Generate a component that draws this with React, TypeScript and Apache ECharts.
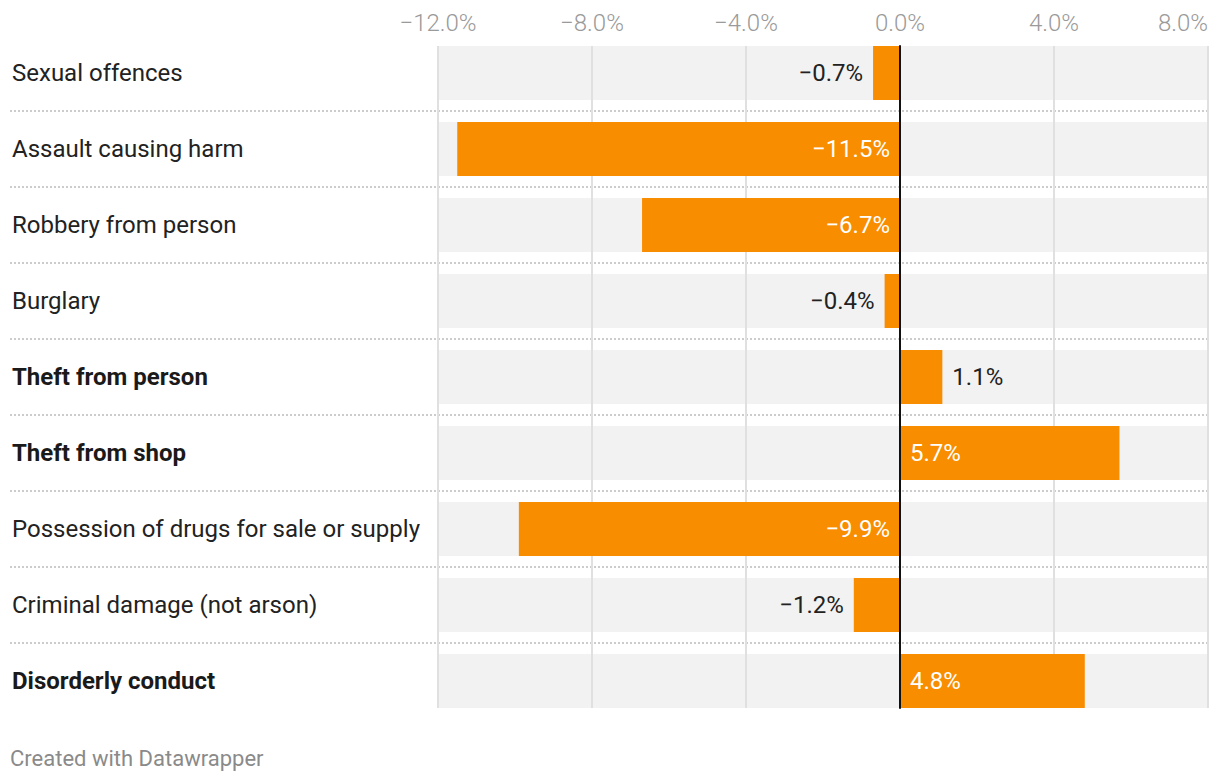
import React, { useEffect, useRef } from "react";
import * as echarts from "echarts";

const categories = [
  "Sexual offences",
  "Assault causing harm",
  "Robbery from person",
  "Burglary",
  "Theft from person",
  "Theft from shop",
  "Possession of drugs for sale or supply",
  "Criminal damage (not arson)",
  "Disorderly conduct",
];
const boldCategories = ["Theft from person", "Theft from shop", "Disorderly conduct"];
const values = [-0.7, -11.5, -6.7, -0.4, 1.1, 5.7, -9.9, -1.2, 4.8];
const axisMin = -12;
const axisMax = 8;
const axisStep = 4;
const footerText = "Created with Datawrapper";

const fmt = (v: number) => (v < 0 ? "\u2212" : "") + Math.abs(v).toFixed(1) + "%";

export default function App() {
  const ref = useRef<HTMLDivElement>(null);
  useEffect(() => {
    document.body.style.margin = "0";
    if (!ref.current) return;
    const chart = echarts.init(ref.current, null, { renderer: "svg" });
    const FONT = "Roboto";
    const gridTop = 35;
    const gridH = 684;
    const left = 438;
    const width = 770;

    const barData = values.map((v) => {
      const big = Math.abs(v) > 3;
      let position: string;
      if (v < 0) position = big ? "insideRight" : "left";
      else position = big ? "insideLeft" : "right";
      return {
        value: v,
        label: {
          show: true,
          position,
          distance: 10,
          color: big ? "#ffffff" : "#222222",
          formatter: () => fmt(v),
        },
      };
    });

    chart.setOption({
      animation: false,
      backgroundColor: "#ffffff",
      textStyle: { fontFamily: FONT },
      grid: [
        { left, width, top: gridTop, height: gridH, containLabel: false },
        { left: 10, right: 12, top: gridTop, height: gridH, containLabel: false },
        { left, width, top: 46, height: 662, containLabel: false },
      ],
      xAxis: [
        {
          gridIndex: 0,
          type: "value",
          position: "top",
          min: axisMin,
          max: axisMax,
          interval: axisStep,
          axisLine: { show: false },
          axisTick: { show: false },
          splitLine: { show: false },
          axisLabel: {
            show: true,
            margin: 0,
            fontSize: 24,
            fontFamily: FONT,
            fontWeight: 300,
            color: "#9a9a9a",
            alignMaxLabel: "right",
            formatter: (v: number) => fmt(v),
          },
        },
        { gridIndex: 1, type: "value", show: false, min: 0, max: 1 },
        {
          gridIndex: 2,
          type: "value",
          min: axisMin,
          max: axisMax,
          interval: axisStep,
          z: 2,
          axisLine: { show: false },
          axisTick: { show: false },
          axisLabel: { show: false },
          splitLine: { show: true, lineStyle: { color: "#e0e0e0", width: 2 } },
        },
      ],
      yAxis: [
        {
          gridIndex: 0,
          type: "category",
          inverse: true,
          data: categories,
          axisLine: { show: false },
          axisTick: { show: false },
          splitLine: { show: false },
          axisLabel: {
            show: true,
            align: "left",
            margin: 426,
            formatter: (c: string) =>
              boldCategories.includes(c) ? `{b|${c}}` : `{n|${c}}`,
            rich: {
              n: { fontSize: 24, fontFamily: FONT, color: "#222222", fontWeight: "normal" },
              b: { fontSize: 24, fontFamily: FONT, color: "#1a1a1a", fontWeight: "bold" },
            },
          },
        },
        {
          gridIndex: 1,
          type: "category",
          inverse: true,
          data: categories,
          axisLine: { show: false },
          axisTick: { show: false },
          axisLabel: { show: false },
          splitLine: {
            show: true,
            showMinLine: false,
            showMaxLine: false,
            lineStyle: { color: "#cccccc", width: 2, type: [2, 2] },
          },
        },
        {
          gridIndex: 2,
          type: "value",
          min: 0,
          max: 1,
          z: 6,
          axisLine: { show: true, onZero: true, lineStyle: { color: "#111111", width: 2 } },
          axisTick: { show: false },
          axisLabel: { show: false },
          splitLine: { show: false },
        },
      ],
      series: [
        {
          type: "bar",
          name: "band",
          xAxisIndex: 0,
          yAxisIndex: 0,
          data: categories.map(() => 0),
          barWidth: 54,
          barGap: "-100%",
          showBackground: true,
          backgroundStyle: { color: "#f2f2f2" },
          itemStyle: { color: "rgba(0,0,0,0)" },
          silent: true,
          z: 1,
        },
        {
          type: "bar",
          name: "change",
          xAxisIndex: 0,
          yAxisIndex: 0,
          data: barData,
          barWidth: 54,
          barGap: "-100%",
          itemStyle: { color: "#f98d00" },
          label: { fontSize: 24, fontFamily: FONT },
          z: 3,
        },
      ],
      graphic: [
        {
          type: "text",
          left: 10,
          top: 747,
          style: {
            text: footerText,
            fontSize: 22,
            fontFamily: FONT,
            fill: "#8a8a8a",
          },
        },
      ],
    });
    return () => chart.dispose();
  }, []);
  return <div ref={ref} style={{ width: 1220, height: 784 }} />;
}
